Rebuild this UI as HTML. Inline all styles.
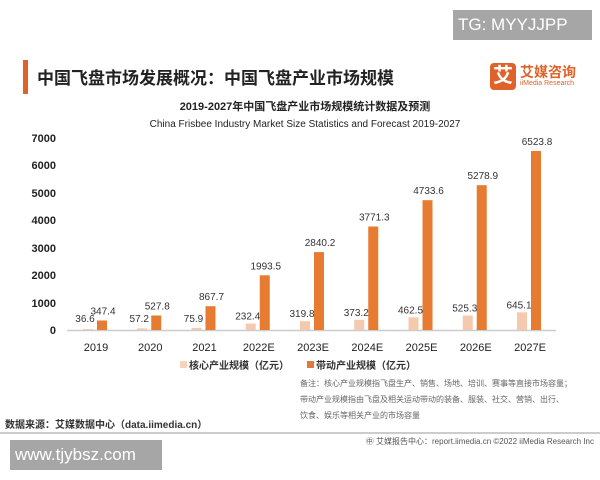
<!DOCTYPE html>
<html><head><meta charset="utf-8"><style>
body{margin:0;width:600px;height:480px;background:#fff;position:relative;overflow:hidden;font-family:"Liberation Sans","Noto Sans CJK SC",sans-serif;}
.a{position:absolute;white-space:nowrap}
</style></head><body>
<div class="a" style="left:453px;top:10px;width:139px;height:30px;background:#a6a6a6;color:#fff;font-size:17px;line-height:30px;padding-left:5px;box-sizing:border-box">TG: MYYJJPP</div>
<div class="a" style="left:23px;top:60px;width:5px;height:34px;background:#e0622b"></div>
<div class="a" style="left:37px;top:64px;font-size:17px;font-weight:bold;color:#222">中国飞盘市场发展概况：中国飞盘产业市场规模</div>
<div class="a" style="left:490px;top:63px;width:26px;height:27px;background:#e0622b;border-radius:4px;color:#fff;font-size:20px;font-weight:bold;text-align:center;line-height:27px">艾</div>
<div class="a" style="left:520px;top:62px;font-size:14px;font-weight:bold;color:#e0622b">艾媒咨询</div>
<div class="a" style="left:520px;top:80px;font-size:7px;color:#e0622b">iiMedia Research</div>
<div class="a" style="left:0;width:600px;text-align:center;top:98px;font-size:11px;font-weight:bold;color:#222;padding-left:10px;box-sizing:border-box">2019-2027年中国飞盘产业市场规模统计数据及预测</div>
<div class="a" style="left:0;width:600px;text-align:center;top:119px;font-size:10px;color:#222;padding-left:10px;box-sizing:border-box">China Frisbee Industry Market Size Statistics and Forecast 2019-2027</div>
<svg class="a" style="left:0;top:0" width="600" height="480" font-family="Liberation Sans, sans-serif">
<g font-size="11" font-weight="bold" fill="#222" text-anchor="end">
<text x="56" y="142">7000</text><text x="56" y="169">6000</text><text x="56" y="197">5000</text><text x="56" y="224">4000</text><text x="56" y="252">3000</text><text x="56" y="279">2000</text><text x="56" y="307">1000</text><text x="56" y="334">0</text>
</g>
<line x1="67" y1="330.5" x2="556" y2="330.5" stroke="#ccc" stroke-width="1.5"/>
<g fill="#f5c9ad">
<rect x="83" y="329" width="10" height="1"/>
<rect x="137.25" y="328.4" width="10" height="1.6"/>
<rect x="191.5" y="327.9" width="10" height="2.1"/>
<rect x="245.75" y="323.6" width="10" height="6.4"/>
<rect x="300" y="321.2" width="10" height="8.8"/>
<rect x="354.25" y="319.8" width="10" height="10.2"/>
<rect x="408.5" y="317.3" width="10" height="12.7"/>
<rect x="462.75" y="315.6" width="10" height="14.4"/>
<rect x="517" y="312.3" width="10" height="17.7"/>
</g>
<g fill="#e77b32">
<rect x="97" y="320.5" width="10" height="9.5"/>
<rect x="151.25" y="315.5" width="10" height="14.5"/>
<rect x="205.5" y="306.2" width="10" height="23.8"/>
<rect x="259.75" y="275.3" width="10" height="54.7"/>
<rect x="314" y="252.1" width="10" height="77.9"/>
<rect x="368.25" y="226.5" width="10" height="103.5"/>
<rect x="422.5" y="200.2" width="10" height="129.8"/>
<rect x="476.75" y="185.2" width="10" height="144.8"/>
<rect x="531" y="151" width="10" height="179"/>
</g>
<g font-size="10" fill="#333" text-anchor="middle">
<text x="85" y="322">36.6</text><text x="139.25" y="322">57.2</text><text x="193.5" y="322">75.9</text><text x="247.75" y="319.6">232.4</text><text x="302" y="317.2">319.8</text><text x="356.25" y="315.8">373.2</text><text x="410.5" y="313.3">462.5</text><text x="464.75" y="311.6">525.3</text><text x="519" y="308.3">645.1</text>
<text x="103" y="314.5">347.4</text><text x="157.25" y="309.5">527.8</text><text x="211.5" y="300.2">867.7</text><text x="265.75" y="269.3">1993.5</text><text x="320" y="246.1">2840.2</text><text x="374.25" y="220.5">3771.3</text><text x="428.5" y="194.2">4733.6</text><text x="482.75" y="179.2">5278.9</text><text x="537" y="145">6523.8</text>
</g>
<g font-size="11" fill="#222" text-anchor="middle">
<text x="96" y="351">2019</text><text x="150.25" y="351">2020</text><text x="204.5" y="351">2021</text><text x="258.75" y="351">2022E</text><text x="313" y="351">2023E</text><text x="367.25" y="351">2024E</text><text x="421.5" y="351">2025E</text><text x="475.75" y="351">2026E</text><text x="530" y="351">2027E</text>
</g>
<line x1="0" y1="433" x2="600" y2="433" stroke="#999" stroke-width="1"/>
<rect x="180" y="361" width="7" height="7" fill="#f5d2bc"/>
<rect x="307" y="361" width="7" height="7" fill="#e0793a"/>
</svg>
<div class="a" style="left:189px;top:357px;font-size:10px;font-weight:bold;color:#333">核心产业规模（亿元）</div>
<div class="a" style="left:316px;top:357px;font-size:10px;font-weight:bold;color:#333">带动产业规模（亿元）</div>
<div class="a" style="left:300px;top:376px;font-size:8px;line-height:16px;color:#666">备注：核心产业规模指飞盘生产、销售、场地、培训、赛事等直接市场容量；<br>带动产业规模指由飞盘及相关运动带动的装备、服装、社交、营销、出行、<br>饮食、娱乐等相关产业的市场容量</div>
<div class="a" style="left:5px;top:416px;font-size:10px;font-weight:bold;color:#333">数据来源：艾媒数据中心（data.iimedia.cn）</div>
<div class="a" style="right:6px;top:436px;font-size:8px;color:#555">㊥ 艾媒报告中心：report.iimedia.cn  ©2022 iiMedia Research Inc</div>
<div class="a" style="left:10px;top:440px;width:152px;height:30px;background:#a6a6a6;color:#fff;font-size:17px;line-height:30px;padding-left:5px;box-sizing:border-box">www.tjybsz.com</div>
</body></html>
